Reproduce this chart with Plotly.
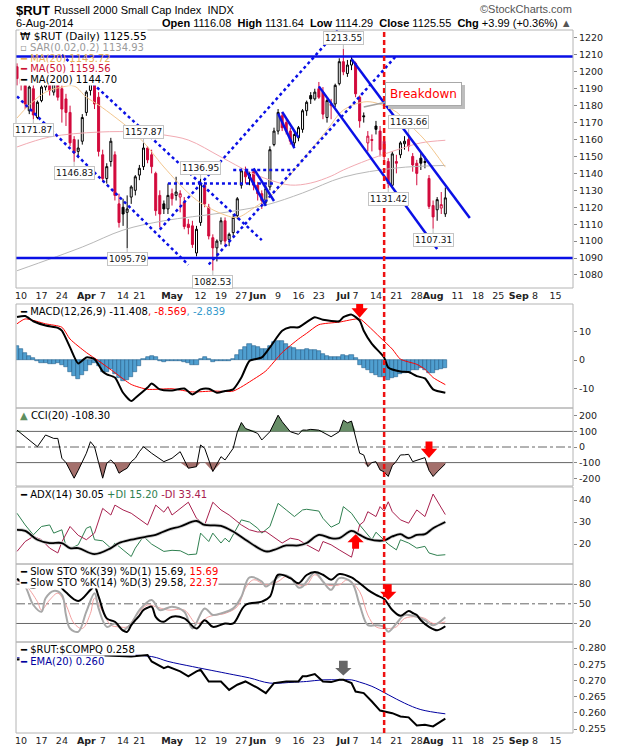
import pandas as pd
import plotly.graph_objects as go

# trading calendar for the window shown (NYSE holidays removed)
holidays = ["2014-04-18", "2014-05-26", "2014-07-04", "2014-09-01"]
days = pd.bdate_range("2014-03-07", "2014-09-19", freq="C", holidays=holidays)
pos = {d.strftime("%m-%d"): i for i, d in enumerate(days)}


def ix(dates):
    return [pos[d] for d in dates]


# ---- $RUT daily candles, Mar 7 .. Aug 6 2014 ----
open_ = [1203, 1196, 1192, 1177, 1190, 1173, 1183, 1191, 1198, 1188, 1197, 1190, 1184, 1176, 1160, 1153, 1159,
         1176, 1189, 1193, 1185, 1151, 1137, 1147, 1151, 1122, 1120, 1117, 1126, 1130, 1139, 1144, 1155, 1151, 1140, 1127, 1122, 1119,
         1128, 1127, 1126, 1123, 1110, 1109, 1093, 1111, 1133, 1120, 1102, 1096, 1100, 1112, 1101, 1105, 1115, 1133, 1141, 1137, 1141,
         1133, 1128, 1123, 1132, 1157, 1165, 1174, 1170, 1165, 1158, 1161, 1166, 1177, 1186, 1184, 1190, 1188, 1173, 1180, 1181, 1193,
         1206, 1199, 1204, 1205, 1185, 1174, 1158, 1160, 1168, 1165, 1159, 1147, 1133, 1147, 1151, 1157.5, 1160, 1150, 1146, 1149, 1147, 1137,
         1121, 1118.5, 1119.5, 1116.08]
high = [1205, 1198, 1194, 1192, 1193, 1183, 1193, 1200, 1201, 1196, 1199, 1192, 1187, 1180, 1162, 1160, 1175,
        1189, 1195.96, 1194, 1188, 1154, 1146, 1161, 1153, 1128, 1125, 1127, 1133, 1139, 1145, 1157.87, 1156, 1154, 1141, 1130, 1124, 1134,
        1131, 1138, 1130, 1126, 1113, 1112, 1109, 1136.95, 1135, 1122, 1104, 1101, 1114, 1114, 1105, 1116, 1126, 1143, 1144, 1141, 1142,
        1135, 1130, 1133, 1156, 1167, 1178, 1176, 1172, 1167, 1165, 1168, 1178, 1183, 1188, 1190, 1194, 1191, 1184, 1184, 1193, 1208,
        1213.55, 1207, 1209, 1206, 1186, 1176, 1165, 1163, 1171, 1168, 1162, 1149, 1153, 1151, 1159, 1162, 1163.66, 1152, 1148, 1152, 1150, 1139,
        1124, 1126, 1129, 1131.64]
low = [1192, 1189, 1178, 1175, 1171.87, 1172, 1182, 1189, 1186, 1186, 1183, 1170, 1168, 1156, 1146.83, 1149, 1157,
       1174, 1186, 1178, 1150, 1135, 1134, 1144, 1124, 1108, 1109, 1095.79, 1122, 1127, 1136, 1142, 1146, 1140, 1115, 1108, 1116, 1116,
       1121, 1124, 1117, 1107, 1104, 1096, 1091, 1109, 1120, 1101, 1082.53, 1088, 1098, 1097, 1097, 1103, 1113, 1131, 1134, 1133, 1130,
       1124, 1119, 1121, 1130, 1156, 1163, 1165, 1163, 1157, 1156, 1159, 1164, 1174, 1181, 1183, 1184, 1172, 1170, 1172, 1179, 1192,
       1198, 1197, 1201, 1185, 1167, 1170, 1153, 1153, 1163, 1150, 1148, 1131.42, 1131.5, 1140, 1149, 1154, 1153, 1141, 1133, 1142, 1143, 1119,
       1107.31, 1112, 1116, 1114.29]
close = [1196, 1193, 1181, 1191, 1174.5, 1182, 1191, 1198, 1189, 1193, 1185, 1178, 1176, 1158, 1152, 1155, 1173,
         1188, 1193, 1181, 1153, 1137, 1144, 1159, 1127, 1111, 1116, 1119, 1132, 1138, 1143, 1155, 1148, 1144, 1118, 1116, 1119, 1127,
         1125, 1129, 1128, 1108.6, 1108, 1098, 1107, 1134, 1122, 1103, 1096, 1100, 1112, 1100, 1104, 1114, 1125, 1141.5, 1138, 1139.5, 1133,
         1128, 1124, 1131, 1154, 1165, 1176, 1167, 1165, 1159, 1163, 1167, 1177, 1182, 1184, 1188, 1185, 1175, 1183, 1181, 1192, 1206,
         1200, 1204, 1207, 1187, 1171, 1173.5, 1162, 1159.5, 1166, 1154, 1150, 1134, 1151.5, 1146, 1158, 1159, 1156, 1145, 1140, 1146, 1146.5, 1120.5,
         1114.3, 1124.5, 1121.56, 1125.55]

ma20_dates = ["03-07", "03-12", "03-18", "03-24", "03-27", "04-01", "04-04", "04-10", "04-16", "04-22", "04-25", "04-29",
              "05-09", "05-20", "05-23", "05-30", "06-06", "06-13", "06-17", "06-25", "07-01", "07-09", "07-14", "07-21",
              "07-23", "07-30", "08-06"]
ma20 = [1172.7, 1180.4, 1188.0, 1191.0, 1191.6, 1185.0, 1180.4, 1173.3, 1165.6, 1158.5, 1149.7, 1143.8,
        1124.3, 1115.4, 1114.0, 1119.5, 1128.4, 1142.0, 1148.0, 1165.6, 1177.4, 1182.2, 1181.6, 1176.3,
        1171.5, 1159.7, 1143.7]
ma50_dates = ["03-07", "03-19", "04-04", "04-21", "04-29", "05-07", "05-19", "05-29", "06-05", "06-12", "06-19",
              "06-26", "07-01", "07-10", "07-21", "07-29", "08-06"]
ma50 = [1155.6, 1161.5, 1164.4, 1164.4, 1162.7, 1159.7, 1149.7, 1140.8, 1136.1, 1133.1, 1134.3,
        1138.4, 1142.0, 1147.9, 1153.8, 1158.0, 1159.56]
ma200_dates = ["03-07", "03-31", "04-14", "04-29", "05-19", "06-04", "06-17", "07-01", "07-21", "08-06"]
ma200 = [1082.5, 1096.5, 1106.5, 1112.0, 1116.6, 1121.3, 1128.4, 1137.8, 1143.2, 1144.7]

# ---- MACD(12,26,9) ----
macd_dates = ["03-07", "03-11", "03-13", "03-18", "03-21", "03-24", "03-26", "03-28", "04-01", "04-03", "04-07",
              "04-08", "04-10", "04-14", "04-16", "04-17", "04-23", "04-24", "04-28", "05-01", "05-06", "05-08",
              "05-12", "05-14", "05-16", "05-20", "05-22", "05-27", "05-29", "06-03", "06-05", "06-10", "06-12",
              "06-16", "06-18", "06-20", "06-24", "06-30", "07-01", "07-03", "07-08", "07-09", "07-11", "07-16",
              "07-17", "07-22", "07-24", "07-28", "07-30", "08-01", "08-06"]
macd = [15.0, 15.3, 13.5, 12.0, 11.2, 10.2, 4.4, -1.2, 0.9, 0.3, -4.0,
        -5.0, -6.1, -11.4, -14.3, -13.2, -9.6, -8.2, -10.2, -10.6, -9.9, -12.0,
        -10.2, -10.0, -11.4, -10.8, -10.2, -6.1, -0.3, 0.9, 4.4, 10.2, 11.4,
        11.4, 13.2, 14.9, 14.0, 13.5, 14.9, 15.8, 13.7, 10.2, 5.6, 0.9,
        -2.6, -4.0, -4.2, -5.6, -6.4, -10.2, -11.408]
signal_dates = ["03-07", "03-11", "03-18", "03-24", "03-26", "04-01", "04-04", "04-10", "04-16", "04-23", "05-01",
                "05-08", "05-15", "05-22", "05-30", "06-04", "06-10", "06-16", "06-18", "06-23", "06-30", "07-08",
                "07-10", "07-15", "07-18", "07-22", "07-28", "07-30", "08-01", "08-06"]
signal = [12.6, 14.3, 12.6, 11.4, 7.3, 2.6, -0.3, -4.4, -8.5, -10.2, -10.0,
          -11.1, -10.8, -10.8, -6.7, -3.8, 2.6, 7.3, 9.3, 12.3, 13.2, 14.3,
          12.0, 7.9, 3.8, 0.3, -1.5, -3.2, -6.1, -8.569]
# one bar per session, Mar 7 .. Aug 6
macd_hist = [4.8, 3.8, 2.5, 1.5, 0.8, -0.4, -0.9, -1.2, -1.5, -1.3, -1.0, -1.6, -2.6, -4.0, -5.5, -6.7, -5.2,
             -3.8, -1.8, -1.2, -2.2, -4.0, -4.0, -3.2, -4.8, -6.2, -7.3, -7.0, -5.8, -4.2, -2.2, 0.3, 1.2, 1.5, 0.9, -0.3, -0.6, -0.5,
             -0.3, -0.4, -0.2, -0.8, -1.2, -1.6, -1.7, 0.4, 1.2, 0.5, -0.6, -0.4, -0.2, -0.5, -0.3, 0.5, 1.8, 3.4, 4.5, 5.5, 5.0,
             4.4, 3.8, 4.0, 5.0, 6.2, 6.7, 6.5, 5.5, 4.6, 4.2, 3.6, 3.4, 3.8, 3.6, 3.5, 3.2, 2.2, 1.3, 1.0, 0.9, 1.2,
             1.6, 1.4, 1.8, 0.6, -1.6, -2.8, -3.6, -4.4, -5.2, -5.8, -6.0, -7.0, -6.4, -5.8, -5.0, -4.6, -4.0, -3.6, -3.4, -2.8, -3.6, -4.6,
             -4.4, -3.6, -3.0, -2.839]

# ---- CCI(20) ----
cci_dates = ["03-07", "03-11", "03-14", "03-18", "03-20", "03-21", "03-24", "03-25", "03-27", "03-28", "03-31",
             "04-01", "04-02", "04-03", "04-04", "04-07", "04-08", "04-09", "04-10", "04-11", "04-14", "04-15",
             "04-16", "04-17", "04-21", "04-22", "04-24", "04-29", "05-01", "05-05", "05-07", "05-09", "05-12",
             "05-13", "05-15", "05-19", "05-20", "05-22", "05-23", "05-27", "05-28", "06-02", "06-03", "06-05",
             "06-09", "06-10", "06-12", "06-16", "06-17", "06-18", "06-19", "06-23", "06-26", "06-30", "07-01",
             "07-02", "07-03", "07-07", "07-08", "07-09", "07-10", "07-11", "07-14", "07-15", "07-16", "07-17",
             "07-18", "07-21", "07-22", "07-23", "07-24", "07-25", "07-28", "07-29", "07-30", "07-31", "08-01",
             "08-04", "08-05", "08-06"]
cci = [108, 66, 2, 77, 55, 55, -72, -100, -200, -150, -100,
       -40, 34, 2, -100, -200, -104, -83, -110, -168, -150, -136,
       -94, -72, -30, 2, -40, -94, -72, -30, -136, -126, 13,
       -8, -157, -62, -83, -8, 95, 157, 119, 87, 45, 98,
       204, 162, 98, 81, 109, 108, 113, 108, 66, 98, 172,
       155, 166, 55, -40, -51, -126, -100, -94, -147, -160, -189,
       -120, -90, -51, -50, -47, -94, -85, -72, -68, -150, -189,
       -160, -135, -108.3]

# ---- ADX(14) ----
adx_dates = ["03-07", "03-11", "03-14", "03-19", "03-24", "03-26", "03-28", "04-03", "04-09", "04-11", "04-16",
             "04-23", "04-25", "04-30", "05-05", "05-09", "05-13", "05-19", "05-22", "05-28", "06-04", "06-06",
             "06-11", "06-16", "06-18", "06-23", "06-26", "06-30", "07-03", "07-08", "07-10", "07-16", "07-18",
             "07-22", "07-24", "07-28", "07-30", "08-01", "08-06"]
adx = [26.5, 26.0, 22.0, 20.5, 20.5, 18.2, 18.2, 15.5, 18.2, 20.5, 22.0,
       23.5, 24.2, 26.5, 28.0, 30.5, 28.7, 28.3, 25.7, 22.0, 16.7, 17.4,
       19.4, 19.4, 20.5, 24.2, 22.7, 22.7, 26.0, 24.2, 22.4, 21.7, 23.5,
       24.5, 22.7, 24.2, 24.5, 27.2, 30.05]
pdi_dates = ["03-07", "03-11", "03-13", "03-17", "03-19", "03-20", "03-24", "03-25", "03-26", "03-28", "04-01",
             "04-02", "04-03", "04-07", "04-09", "04-10", "04-14", "04-16", "04-17", "04-22", "04-24", "04-29",
             "05-01", "05-05", "05-07", "05-09", "05-12", "05-14", "05-15", "05-19", "05-20", "05-21", "05-27",
             "05-29", "06-02", "06-03", "06-05", "06-09", "06-11", "06-13", "06-17", "06-18", "06-23", "06-24",
             "06-26", "06-30", "07-01", "07-03", "07-08", "07-10", "07-11", "07-14", "07-16", "07-17", "07-21",
             "07-22", "07-24", "07-28", "07-30", "07-31", "08-04", "08-06"]
pdi = [34, 28.7, 24.2, 28, 28.7, 25, 26.5, 19, 17.9, 19.7, 27.2,
       28, 22, 21.5, 18.2, 20.5, 17.4, 14.4, 18.2, 23.5, 20, 16.7,
       17.2, 17, 15.2, 15.5, 25, 21.2, 25, 20.5, 22.7, 21, 31,
       30, 27.2, 25, 28, 38.5, 35.5, 32.5, 35.5, 35.8, 35, 31.7,
       27.7, 29.5, 37, 34, 28.7, 24.2, 22, 25.4, 22, 20, 17.4,
       22, 20.5, 18.2, 19, 16, 14.9, 15.2]
mdi_dates = ["03-07", "03-11", "03-13", "03-17", "03-19", "03-21", "03-24", "03-25", "03-26", "03-28", "04-01",
             "04-03", "04-07", "04-09", "04-10", "04-14", "04-16", "04-23", "04-25", "04-29", "04-30", "05-01",
             "05-05", "05-07", "05-09", "05-13", "05-15", "05-19", "05-21", "05-27", "05-29", "06-02", "06-04",
             "06-10", "06-12", "06-16", "06-18", "06-23", "06-24", "06-26", "06-30", "07-03", "07-08", "07-09",
             "07-10", "07-14", "07-15", "07-16", "07-17", "07-18", "07-22", "07-24", "07-28", "07-30", "08-01",
             "08-06"]
mdi = [16.7, 21.2, 23.5, 22, 18.2, 16, 21, 24.2, 28, 24, 22,
       25, 36.2, 33.2, 37.7, 35.5, 34, 28.7, 37.7, 34.5, 37, 33.2,
       36.2, 39, 31.7, 28.7, 39, 35.5, 33.2, 28.7, 26.5, 25.5, 25.7,
       20.5, 22.7, 22, 19.7, 16.7, 21.2, 19.7, 17.4, 14.1, 28.7, 30.2,
       34.7, 32.5, 37, 35, 39.2, 34.7, 31, 29.5, 35.5, 32.5, 42.7,
       33.41]

# ---- Slow stochastics ----
sto39_dates = ["03-07", "03-11", "03-13", "03-18", "03-21", "03-24", "03-25", "03-28", "04-02", "04-03", "04-04",
               "04-08", "04-10", "04-14", "04-15", "04-16", "04-17", "04-21", "04-22", "04-23", "04-24", "04-25",
               "04-28", "04-29", "05-01", "05-06", "05-09", "05-13", "05-15", "05-20", "05-22", "05-28", "06-03",
               "06-05", "06-09", "06-12", "06-16", "06-18", "06-20", "06-24", "06-26", "06-30", "07-03", "07-07",
               "07-08", "07-10", "07-14", "07-16", "07-18", "07-22", "07-24", "07-25", "07-28", "07-29", "07-31",
               "08-04", "08-06"]
sto39 = [88, 80, 74, 86, 84, 74, 67.7, 54.4, 71.3, 76.4, 61,
         27.7, 22.6, 9, 7.2, 17.4, 25, 32, 40.5, 44, 45.6, 30,
         24, 22.6, 30.3, 27.7, 12.3, 25, 14.9, 20, 20, 48.2, 53.3,
         61, 94.4, 89.2, 81.5, 94, 98.5, 94.4, 86.7, 95.4, 90.3, 86,
         81.5, 71.3, 63.6, 57.4, 40.5, 31.8, 39, 36, 32.8, 25, 14.9,
         9.7, 15.69]
sto14_dates = ["03-07", "03-11", "03-13", "03-17", "03-18", "03-20", "03-24", "03-25", "03-26", "03-28", "04-01",
               "04-03", "04-04", "04-08", "04-10", "04-14", "04-16", "04-21", "04-24", "04-28", "05-01", "05-06",
               "05-08", "05-13", "05-15", "05-19", "05-22", "05-27", "05-29", "06-03", "06-04", "06-10", "06-12",
               "06-16", "06-17", "06-18", "06-20", "06-24", "06-26", "06-30", "07-03", "07-08", "07-10", "07-14",
               "07-16", "07-17", "07-21", "07-23", "07-28", "07-30", "08-01", "08-06"]
sto14 = [88, 76.4, 48.2, 38, 58.5, 69.7, 63.6, 32.8, 12.3, 7.2, 38,
         66.2, 43, 14.9, 20, 9.7, 20, 40.5, 55.9, 40.5, 45.6, 38,
         12.3, 43, 33, 35.4, 43, 61, 90.3, 84.1, 76.4, 94.4, 90.3,
         74.9, 76.4, 84.1, 98, 84.1, 71.3, 89.2, 83, 48.2, 17.4, 17.4,
         14.9, 7.2, 20, 32.8, 30.3, 25, 17.4, 29.58]
sto14d_dates = ["03-07", "03-11", "03-14", "03-17", "03-19", "03-21", "03-25", "03-27", "03-31", "04-02", "04-03",
                "04-07", "04-09", "04-11", "04-15", "04-17", "04-23", "04-25", "04-30", "05-06", "05-09", "05-14",
                "05-16", "05-20", "05-23", "05-28", "05-30", "06-04", "06-09", "06-11", "06-16", "06-18", "06-20",
                "06-25", "06-30", "07-02", "07-08", "07-10", "07-14", "07-17", "07-21", "07-23", "07-28", "07-30",
                "08-01", "08-06"]
sto14d = [85, 79, 53.3, 40.5, 55.9, 66.2, 48.2, 20, 12.3, 35.4, 58.5,
          38, 17.4, 14.9, 14.9, 30.3, 48.2, 45.6, 40.5, 40.5, 20, 30.3,
          33, 35.4, 45.6, 74, 86.7, 79, 84.1, 91.8, 79, 79, 94.4,
          79, 79, 86.7, 68.7, 32.8, 14.9, 12.3, 14.9, 27.7, 30.3, 27.7,
          20, 22.37]

# ---- $RUT:$COMPQ ratio and its EMA(20) ----
ratio_dates = ["03-07", "03-14", "03-21", "03-28", "04-03", "04-16", "04-23", "04-24", "04-29", "04-30", "05-05",
               "05-07", "05-09", "05-12", "05-14", "05-19", "05-21", "05-23", "05-28", "06-02", "06-04", "06-06",
               "06-11", "06-16", "06-17", "06-18", "06-20", "06-24", "06-26", "06-30", "07-01", "07-03", "07-07",
               "07-09", "07-11", "07-15", "07-18", "07-22", "07-24", "07-28", "07-30", "08-01", "08-06"]
ratio = [0.2765, 0.2768, 0.2770, 0.2772, 0.2779, 0.2774, 0.2779, 0.2759, 0.2738, 0.2743, 0.2728,
         0.2713, 0.2728, 0.2733, 0.2697, 0.2697, 0.2671, 0.2687, 0.2697, 0.2677, 0.2661, 0.2692,
         0.2697, 0.2697, 0.2713, 0.2713, 0.2720, 0.2697, 0.2695, 0.2702, 0.2702, 0.2692, 0.2666,
         0.2661, 0.2635, 0.2607, 0.2599, 0.2589, 0.2586, 0.2561, 0.2563, 0.2558, 0.2582]
ema_dates = ["03-07", "03-21", "04-03", "04-24", "04-30", "05-08", "05-16", "05-22", "05-29", "06-05", "06-13",
             "06-18", "06-24", "06-30", "07-03", "07-08", "07-11", "07-17", "07-23", "07-29", "08-06"]
ema = [0.2770, 0.2774, 0.2779, 0.2774, 0.2759, 0.2743, 0.2728, 0.2718, 0.2708, 0.2692, 0.2695,
       0.2697, 0.2702, 0.2702, 0.2702, 0.2695, 0.2682, 0.2656, 0.2630, 0.2610, 0.2597]

# price callouts (session, value, above/below)
callouts = [("07-01", 1213.55, -1), ("03-13", 1171.87, 1), ("03-27", 1146.83, 1), ("04-22", 1157.87, -1),
            ("04-15", 1095.79, 1), ("05-12", 1136.95, -1), ("05-15", 1082.53, 1), ("07-24", 1163.66, -1),
            ("07-17", 1131.42, 1), ("08-01", 1107.31, 1)]

# hand-drawn trend lines: start session, price, end session, price, dash
trend_lines = [("03-07", 1185.5, "05-07", 1086.0, "dot"),
               ("03-24", 1210.0, "06-03", 1100.6, "dot"),
               ("05-14", 1086.2, "07-21", 1209.5, "dot"),
               ("04-28", 1106.8, "06-30", 1225.5, "dot"),
               ("04-30", 1134.0, "06-06", 1134.0, "dot"),
               ("05-22", 1142.0, "06-12", 1142.0, "dot"),
               ("05-28", 1142.5, "06-04", 1120.8, "solid"),
               ("05-30", 1143.0, "06-06", 1123.7, "solid"),
               ("06-09", 1175.4, "06-13", 1154.8, "solid"),
               ("06-10", 1176.3, "06-16", 1161.2, "solid"),
               ("07-03", 1207.5, "08-14", 1113.6, "solid"),
               ("06-23", 1191.4, "08-04", 1095.3, "solid")]
levels = [1209, 1090]
breakdown_day = "07-16"

tick_dates = ["03-10", "03-17", "03-24", "04-01", "04-07", "04-14", "04-21", "05-01", "05-12", "05-19", "05-27",
              "06-02", "06-09", "06-16", "06-23", "07-01", "07-07", "07-14", "07-21", "07-28", "08-01", "08-11",
              "08-18", "08-25", "09-02", "09-08", "09-15"]
tick_text = ["10", "17", "24", "<b>Apr</b>", "7", "14", "21", "<b>May</b>", "12", "19", "27", "<b>Jun</b>", "9",
             "16", "23", "<b>Jul</b>", "7", "14", "21", "28", "<b>Aug</b>", "11", "18", "25", "<b>Sep</b>", "8", "15"]

RED = "#d20a3c"
BLUE = "#0a10e6"
FRAME = "#b4b4b4"

fig = go.Figure()

# moving averages under the candles
for dates, vals, col in ((ma200_dates, ma200, "#b8b8b8"), (ma50_dates, ma50, "#f2aab2"),
                         (ma20_dates, ma20, "#f3c68e")):
    fig.add_trace(go.Scatter(x=ix(dates), y=vals, mode="lines", line=dict(color=col, width=1, shape="spline"),
                             xaxis="x2", yaxis="y", hoverinfo="skip"))

# candles: black when close >= previous close, red otherwise; hollow when close > open
xs = list(range(len(close)))
prev = [open_[0]] + close[:-1]
up = [c >= p for c, p in zip(close, prev)]


def pick(arr, flag):
    return [a for a, u in zip(arr, up) if u == flag]


for flag, col in ((True, "black"), (False, RED)):
    fig.add_trace(go.Candlestick(
        x=pick(xs, flag), open=pick(open_, flag), high=pick(high, flag), low=pick(low, flag),
        close=pick(close, flag), whiskerwidth=0,
        increasing=dict(line=dict(color=col, width=1), fillcolor="white"),
        decreasing=dict(line=dict(color=col, width=1), fillcolor=col),
        xaxis="x2", yaxis="y", hoverinfo="skip"))

for d0, p0, d1, p1, dash in trend_lines:
    fig.add_trace(go.Scatter(x=[pos[d0], pos[d1]], y=[p0, p1], mode="lines",
                             line=dict(color=BLUE, width=2.5, dash=dash), xaxis="x2", yaxis="y", hoverinfo="skip"))

# MACD panel
fig.add_trace(go.Bar(x=xs, y=macd_hist, width=1, marker=dict(color="#4f9fd0", line=dict(color="#245f8c", width=0.6)),
                     xaxis="x", yaxis="y2", hoverinfo="skip"))
fig.add_trace(go.Scatter(x=ix(signal_dates), y=signal, mode="lines", line=dict(color="#ff0000", width=1, shape="spline",
                         smoothing=0.6), xaxis="x", yaxis="y2"))
fig.add_trace(go.Scatter(x=ix(macd_dates), y=macd, mode="lines", line=dict(color="black", width=2, shape="spline",
                         smoothing=0.6), xaxis="x", yaxis="y2"))

# CCI panel with shaded extremes
cx = ix(cci_dates)
for level, col in ((100, "rgb(104,142,104)"), (-100, "rgb(164,112,108)")):
    clipped = [max(v, level) if level > 0 else min(v, level) for v in cci]
    fig.add_trace(go.Scatter(x=cx, y=[level] * len(cx), mode="lines", line=dict(width=0), xaxis="x", yaxis="y3",
                             hoverinfo="skip"))
    fig.add_trace(go.Scatter(x=cx, y=clipped, mode="lines", line=dict(width=0), fill="tonexty", fillcolor=col,
                             xaxis="x", yaxis="y3", hoverinfo="skip"))
fig.add_trace(go.Scatter(x=cx, y=cci, mode="lines", line=dict(color="black", width=1), xaxis="x", yaxis="y3"))

# ADX panel
fig.add_trace(go.Scatter(x=ix(pdi_dates), y=pdi, mode="lines", line=dict(color="#2f8050", width=1), xaxis="x", yaxis="y4"))
fig.add_trace(go.Scatter(x=ix(mdi_dates), y=mdi, mode="lines", line=dict(color="#a8204e", width=1), xaxis="x", yaxis="y4"))
fig.add_trace(go.Scatter(x=ix(adx_dates), y=adx, mode="lines", line=dict(color="#d2d2d2", width=3.5, shape="spline"),
                         xaxis="x", yaxis="y4"))
fig.add_trace(go.Scatter(x=ix(adx_dates), y=adx, mode="lines", line=dict(color="black", width=1.8, shape="spline"),
                         xaxis="x", yaxis="y4"))

# stochastics panel
fig.add_trace(go.Scatter(x=ix(sto14d_dates), y=sto14d, mode="lines", line=dict(color="#f3a0a0", width=1, shape="spline"),
                         xaxis="x", yaxis="y5"))
fig.add_trace(go.Scatter(x=ix(sto14_dates), y=sto14, mode="lines", line=dict(color="#a8a8a8", width=2, shape="spline"),
                         xaxis="x", yaxis="y5"))
fig.add_trace(go.Scatter(x=ix(sto39_dates), y=sto39, mode="lines", line=dict(color="black", width=2, shape="spline"),
                         xaxis="x", yaxis="y5"))

# relative strength panel
fig.add_trace(go.Scatter(x=ix(ema_dates), y=ema, mode="lines", line=dict(color="#0000a0", width=1, shape="spline"),
                         xaxis="x", yaxis="y6"))
fig.add_trace(go.Scatter(x=ix(ratio_dates), y=ratio, mode="lines", line=dict(color="black", width=2), xaxis="x", yaxis="y6"))

# ---- layout ----
W, H = 620, 750
L, R, T, B = 16, 47, 30, 17
PW, PH = W - L - R, H - T - B


def fx(px):
    return (px - L) / PW


def fy(py):
    return (H - B - py) / PH


panels = {"y": (30, 288), "y2": (304, 408), "y3": (408, 486), "y4": (487, 564), "y5": (564, 642), "y6": (642, 733)}
xr = [-0.25, 136.3]


def xaxis_common(**kw):
    d = dict(range=xr, tickmode="array", tickvals=ix(tick_dates), ticktext=tick_text, tickangle=0, showgrid=False,
             zeroline=False, showline=False, ticks="", tickfont=dict(size=9.5, color="#222"), automargin=False,
             rangeslider=dict(visible=False), fixedrange=True)
    d.update(kw)
    return d


def yaxis_common(name, rng, vals, text):
    top, bot = panels[name]
    return dict(domain=[fy(bot), fy(top)], range=rng, side="right", tickmode="array", tickvals=vals, ticktext=text,
                showgrid=False, zeroline=False, showline=False, ticks="outside", ticklen=3, tickcolor="#888",
                tickfont=dict(size=9.5, color="#222"), automargin=False, fixedrange=True, anchor="x")


price_ticks = list(range(1080, 1221, 10))
ratio_ticks = [0.255, 0.260, 0.265, 0.270, 0.275, 0.280]

yaxis_main = yaxis_common("y", [1072.3, 1224.7], price_ticks, [str(v) for v in price_ticks])
yaxis_main["anchor"] = "x2"

fig.update_layout(
    width=W, height=H, margin=dict(l=L, r=R, t=T, b=B), paper_bgcolor="white", plot_bgcolor="white",
    showlegend=False, bargap=0, font=dict(family="DejaVu Sans", size=10, color="#222"),
    xaxis=xaxis_common(domain=[0, 1], anchor="y6"),
    xaxis2=xaxis_common(domain=[0, 1], anchor="y", matches="x"),
    yaxis=yaxis_main,
    yaxis2=yaxis_common("y2", [-16.7, 19.5], [-10, 0, 10], ["-10", "0", "10"]),
    yaxis3=yaxis_common("y3", [-250, 250], [-200, -100, 0, 100, 200], ["-200", "-100", "0", "100", "200"]),
    yaxis4=yaxis_common("y4", [11, 45.9], [20, 30, 40], ["20", "30", "40"]),
    yaxis5=yaxis_common("y5", [-8.3, 110.8], [20, 50, 80], ["20", "50", "80"]),
    yaxis6=yaxis_common("y6", [0.25377, 0.2819], ratio_ticks, [f"{v:.3f}" for v in ratio_ticks]),
)

shapes = []
# reference lines
for yref, lvl, dash in (("y3", 100, "solid"), ("y3", -100, "solid"), ("y3", 0, "dashdot"),
                        ("y5", 80, "solid"), ("y5", 20, "solid"), ("y5", 50, "dashdot")):
    shapes.append(dict(type="line", xref="paper", x0=0, x1=1, yref=yref, y0=lvl, y1=lvl, layer="below",
                       line=dict(color="#666", width=1, dash=dash)))
# support / resistance
for lvl in levels:
    shapes.append(dict(type="line", xref="paper", x0=0, x1=1, yref="y", y0=lvl, y1=lvl, layer="above",
                       line=dict(color=BLUE, width=2.5)))
# panel frames
for top, bot in panels.values():
    shapes.append(dict(type="rect", xref="paper", yref="paper", x0=0, x1=1, y0=fy(bot), y1=fy(top),
                       line=dict(color=FRAME, width=1), layer="above"))
# breakdown marker through all panels
shapes.append(dict(type="line", xref="x", yref="paper", x0=pos[breakdown_day], x1=pos[breakdown_day], y0=0, y1=1,
                   layer="above", line=dict(color="#ee1111", width=2.5, dash="5px,3px")))


def block_arrow(date, tip, neck, tail, yref, color, head=2.0, shaft=0.85):
    c = pos[date]
    path = (f"M{c - shaft},{tail} L{c + shaft},{tail} L{c + shaft},{neck} L{c + head},{neck} "
            f"L{c},{tip} L{c - head},{neck} L{c - shaft},{neck} Z")
    return dict(type="path", path=path, xref="x", yref=yref, fillcolor=color, line=dict(width=0), layer="above")


shapes += [block_arrow("07-08", 14.7, 18.0, 20.3, "y2", "#ff0000"),
           block_arrow("07-31", -70.5, -10.9, 35.9, "y3", "#ff0000"),
           block_arrow("07-07", 24.5, 20.9, 17.9, "y4", "#ff0000"),
           block_arrow("07-17", 55.8, 68.6, 80.0, "y5", "#ff0000"),
           block_arrow("07-01", 0.27154, 0.27383, 0.27608, "y6", "#666666", shaft=1.06)]
fig.update_layout(shapes=shapes)

# price callouts
for d, v, side in callouts:
    fig.add_annotation(x=pos[d], y=v, xref="x2", yref="y", text=f"{v:.2f}", showarrow=True, ax=0, ay=11 * side,
                       arrowhead=0, arrowwidth=1, arrowcolor="#bdbdbd", font=dict(size=9, color="#111"),
                       bgcolor="white", bordercolor="#c4c4c4", borderwidth=1, borderpad=1)
# this one sits mostly under the legend, only its tail shows
fig.add_annotation(x=pos["04-02"], y=1195.96, xref="x2", yref="y", text="1195.96", showarrow=True, ax=-3, ay=-8,
                   arrowhead=0, arrowwidth=1, arrowcolor="#bdbdbd", font=dict(size=9, color="#111"),
                   bgcolor="white", bordercolor="#c4c4c4", borderwidth=1, borderpad=1)

# Breakdown call-out (shadow first)
fig.add_annotation(x=pos["07-09"], y=1179.2, xref="x2", yref="y", text="Breakdown", showarrow=True, ax=63, ay=-10,
                   arrowcolor="rgba(0,0,0,0)", font=dict(size=12, color="#bdbdbd"), bgcolor="#bdbdbd",
                   bordercolor="#bdbdbd", borderwidth=1, borderpad=4)
fig.add_annotation(x=pos["07-09"], y=1179.2, xref="x2", yref="y", text="Breakdown", showarrow=True, ax=60, ay=-13,
                   arrowhead=0, arrowwidth=1.5, arrowcolor="#a0a0a0", font=dict(size=12, color="#ff0000"),
                   bgcolor="white", bordercolor="#a8a8a8", borderwidth=1, borderpad=4)


def text_at(text, px, py, size=10, color="#000", bg=None, xanchor="left", family=None):
    font = dict(size=size, color=color)
    if family:
        font["family"] = family
    fig.add_annotation(xref="paper", yref="paper", x=fx(px), y=fy(py), text=text, showarrow=False,
                       xanchor=xanchor, yanchor="middle", font=font, bgcolor=bg, borderpad=0)


# header
text_at("<b>$RUT</b>", 15, 10, size=13, family="Liberation Sans")
text_at("Russell 2000 Small Cap Index  INDX", 53, 10, size=11, family="Liberation Sans")
text_at("6-Aug-2014", 15, 23, size=11, family="Liberation Sans")
text_at("<b>Open</b> 1116.08  <b>High</b> 1131.64  <b>Low</b> 1114.29  <b>Close</b> 1125.55  "
        "<b>Chg</b> +3.99 (+0.36%) <span style='color:#555'>▲</span>", 573, 23, size=11, xanchor="right",
        family="Liberation Sans")
text_at("©StockCharts.com", 573, 9, size=11, color="#555", xanchor="right", family="Liberation Sans")

# main panel legend
text_at("₩ $RUT (Daily) 1125.55", 19, 36, size=10.5, bg="white")
text_at("▫ SAR(0.02,0.2) 1134.93", 19, 47, color="#9a9a9a", bg="white")
text_at("━ MA(20) 1143.72", 19, 58, color="#e9b05a")
text_at("<span style='color:#cc1133'>━ MA(50) 1159.56</span>", 19, 69, bg="white")
text_at("━ MA(200) 1144.70", 19, 80, bg="white")

# indicator legends
text_at("━ MACD(12,26,9) -11.408<span style='color:#ff0000'>, -8.569</span>"
        "<span style='color:#3399cc'>, -2.839</span>", 19, 311)
text_at("<span style='color:#5f8f5f'>▲</span> CCI(20) -108.30", 19, 415)
text_at("━ ADX(14) 30.05 <span style='color:#2f8050'>+DI 15.20</span> "
        "<span style='color:#a8204e'>-DI 33.41</span>", 19, 494)
text_at("━ Slow STO %K(39) %D(1) 15.69, <span style='color:#ff0000'>15.69</span>", 19, 571, bg="white")
text_at("━ Slow STO %K(14) %D(3) 29.58, <span style='color:#ff0000'>22.37</span>", 19, 582, bg="white")
text_at("━ $RUT:$COMPQ 0.258", 19, 649, bg="white")
text_at("<span style='color:#0000a0'>━ EMA(20) 0.260</span>", 19, 661, bg="white")

# the page is photographed at exactly the figure size, so drop the default body margin
fig.write_html("out.html", config={"displayModeBar": False},
               post_script="document.body.style.margin='0';")
